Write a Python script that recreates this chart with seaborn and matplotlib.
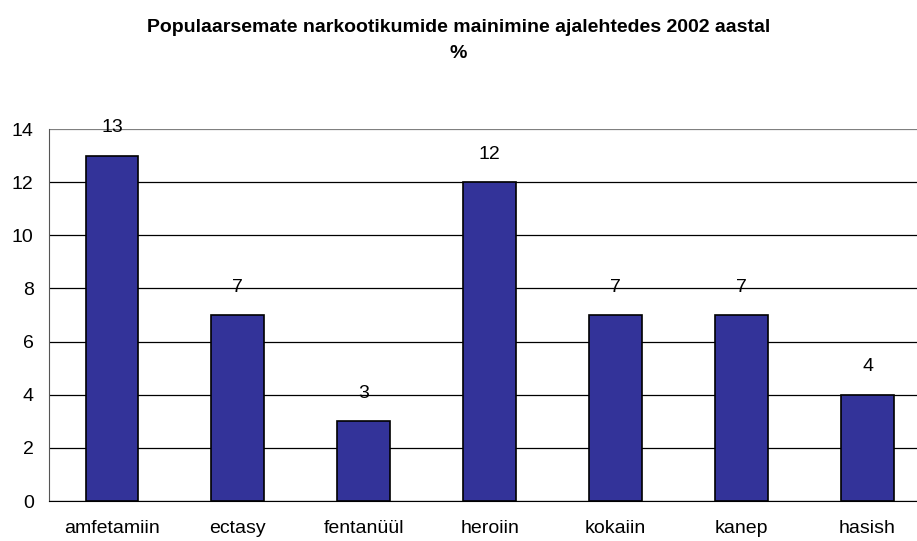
import matplotlib.pyplot as plt
import seaborn as sns
import numpy as np
import pandas as pd

# data
categories = ["amfetamiin", "ectasy", "fentanüül", "heroiin", "kokaiin", "kanep", "hasish"]
values = [13, 7, 3, 12, 7, 7, 4]

sns.set_style("white")
plt.rcParams['font.family'] = ['Liberation Sans', 'DejaVu Sans']
plt.rcParams['text.color'] = 'black'
plt.rcParams['xtick.color'] = 'black'
plt.rcParams['ytick.color'] = 'black'

df = pd.DataFrame({"drug": categories, "pct": values})

fig = plt.figure(figsize=(9.17, 5.41), dpi=100)
# axes runs a bit past the right edge, like the original
ax = fig.add_axes([49 / 917, 40 / 541, 881.5 / 917, 372 / 541])

sns.barplot(data=df, x="drug", y="pct", color="#333399", width=0.42,
            edgecolor="black", linewidth=1.2, saturation=1, ax=ax, zorder=3)

ax.set_ylim(0, 14)
ax.set_xlim(-0.5, len(categories) - 0.5)
ax.set_yticks(np.arange(0, 15, 2))
ax.yaxis.grid(True, color="black", linewidth=0.9, zorder=0)
ax.get_ygridlines()[-1].set_color("#808080")
ax.set_axisbelow(True)

# value labels above bars
for i, v in enumerate(values):
    ax.annotate(str(v), (i, v), xytext=(0, 20), textcoords="offset points",
                ha="center", va="center", fontsize=14)

# category separator ticks
ax.set_xticks(np.arange(-0.5, len(categories), 1), minor=True)
ax.tick_params(axis="x", which="minor", length=5, width=1, color="#555555", direction="out")
ax.tick_params(axis="x", which="major", length=0, pad=14, labelsize=14)
ax.tick_params(axis="y", length=5, width=1, color="#555555", direction="out",
               labelcolor="black", labelsize=14, pad=6)

for s in ["top", "right"]:
    ax.spines[s].set_visible(False)
ax.spines["left"].set_color("#555555")
ax.spines["bottom"].set_color("black")
ax.set_xlabel("")
ax.set_ylabel("")

fig.text(0.5, 1 - 27 / 541, "Populaarsemate narkootikumide mainimine ajalehtedes 2002 aastal",
         ha="center", va="center", fontsize=14, fontweight="bold")
fig.text(0.5, 1 - 54 / 541, "%", ha="center", va="center", fontsize=14, fontweight="bold")

fig.savefig("out.png", dpi=100)
